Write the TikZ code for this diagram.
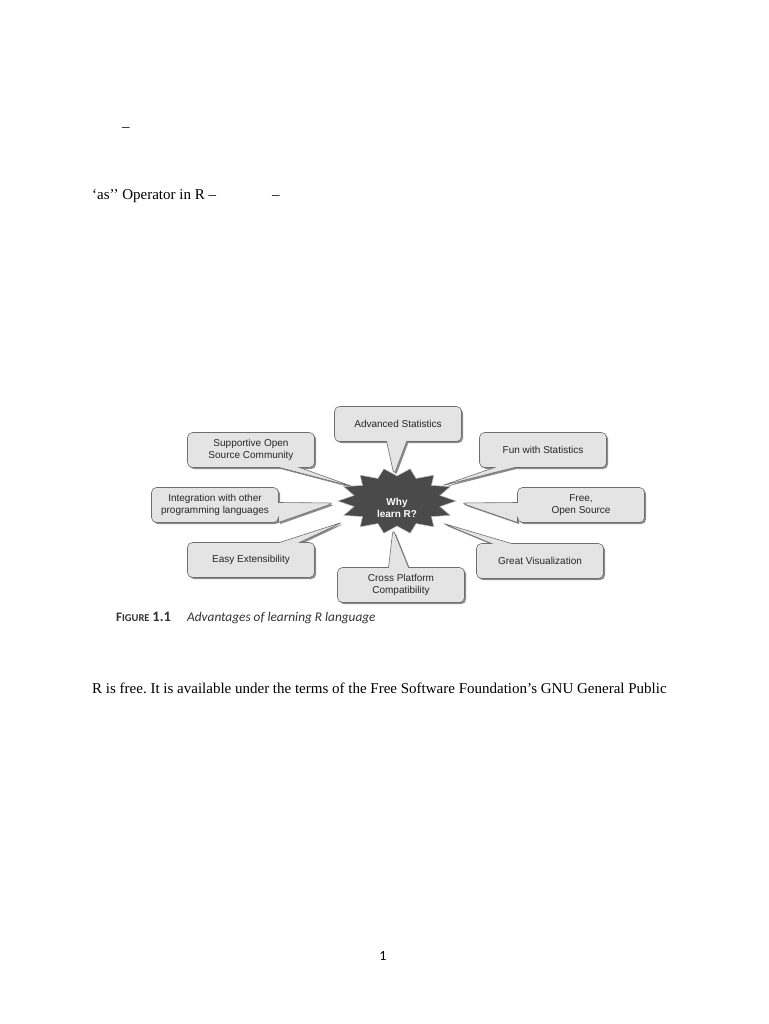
\documentclass[tikz,border=0pt]{standalone}
\usepackage{fontspec}
\setmainfont{Liberation Serif}
\newfontfamily\figfont{Liberation Sans}
\newfontfamily\capfont{Carlito}
\usetikzlibrary{shapes.callouts,shadows}

\definecolor{boxfill}{HTML}{E4E4E4}
\definecolor{boxline}{HTML}{6E6E6E}
\definecolor{boxshadow}{HTML}{8C8C8C}
\definecolor{starfill}{HTML}{4A4A4A}
\definecolor{captext}{HTML}{333333}
\frenchspacing

\begin{document}
\begin{tikzpicture}[x=1pt, y=-1pt,
	line/.style={anchor=base west, inner sep=0pt, font=\fontsize{15}{18}\selectfont},
	bubble/.style={rectangle callout, rounded corners=5pt, fill=boxfill, draw=boxline, line width=0.6pt,
		minimum width=127pt, minimum height=35pt, align=center, inner sep=2pt, text=black!85,
		font=\figfont\fontsize{10}{12}\selectfont, callout pointer width=20pt,
		drop shadow={shadow xshift=1.6pt, shadow yshift=-1.6pt, fill=boxshadow, opacity=1}}]
	\useasboundingbox[fill=white] (0,0) rectangle (768,1024);

	% page text
	\node[line] (dashA) at (122,132) {–};
	\node[line] (asop) at (92,200) {‘as’’ Operator in R –};
	\node[line] (dashB) at (272,200) {–};

	% pointer tips on the star
	\coordinate (tAdv) at (394,475);
	\coordinate (tSup) at (354,487);
	\coordinate (tInt) at (334,503);
	\coordinate (tExt) at (343,522);
	\coordinate (tCro) at (393,529);
	\coordinate (tFun) at (441,486);
	\coordinate (tFre) at (461,503);
	\coordinate (tVis) at (442,523);

	% advantages
	\node[bubble, callout absolute pointer=(tAdv)] (adv) at (398,424) {Advanced Statistics};
	\node[bubble, callout absolute pointer=(tSup)] (sup) at (251,450) {Supportive Open\\Source Community};
	\node[bubble, callout absolute pointer=(tFun)] (fun) at (543,450) {Fun with Statistics};
	\node[bubble, callout absolute pointer=(tInt)] (int) at (215,505) {Integration with other\\programming languages};
	\node[bubble, callout absolute pointer=(tFre)] (fre) at (581,505) {Free,\\Open Source};
	\node[bubble, callout absolute pointer=(tExt)] (ext) at (251,560) {Easy Extensibility};
	\node[bubble, callout absolute pointer=(tVis)] (vis) at (540,561) {Great Visualization};
	\node[bubble, callout absolute pointer=(tCro)] (cro) at (401,585) {Cross Platform\\Compatibility};

	% star burst
	\fill[starfill, draw=gray!55, line width=0.5pt] (456,501)
		\foreach \k in {1,...,27} { -- ({397+(59-15*mod(\k,2))*cos(\k*360/28)}, {501+(33-8*mod(\k,2))*sin(\k*360/28)}) } -- cycle;
	\node[text=white, align=center, font=\figfont\bfseries\fontsize{10}{12}\selectfont] (why) at (397,508) {Why\\learn R?};

	% caption
	\node[anchor=base west, inner sep=0pt, text=captext, font=\capfont\bfseries\fontsize{13}{15}\selectfont] (fig) at (116,621) {F{\fontsize{10.5}{12}\selectfont IGURE}\ \fontsize{14.5}{15}\selectfont 1.1};
	\node[anchor=base west, inner sep=0pt, text=captext, font=\capfont\itshape\fontsize{13.3}{15}\selectfont] (cap) at (187,621) {Advantages of learning R language};

	\node[line] (free) at (92,693) {R is free. It is available under the terms of the Free Software Foundation’s GNU General Public};
	\node[anchor=base, inner sep=0pt, font=\capfont\fontsize{14}{16}\selectfont] (pnum) at (383,960) {1};
\end{tikzpicture}
\end{document}
